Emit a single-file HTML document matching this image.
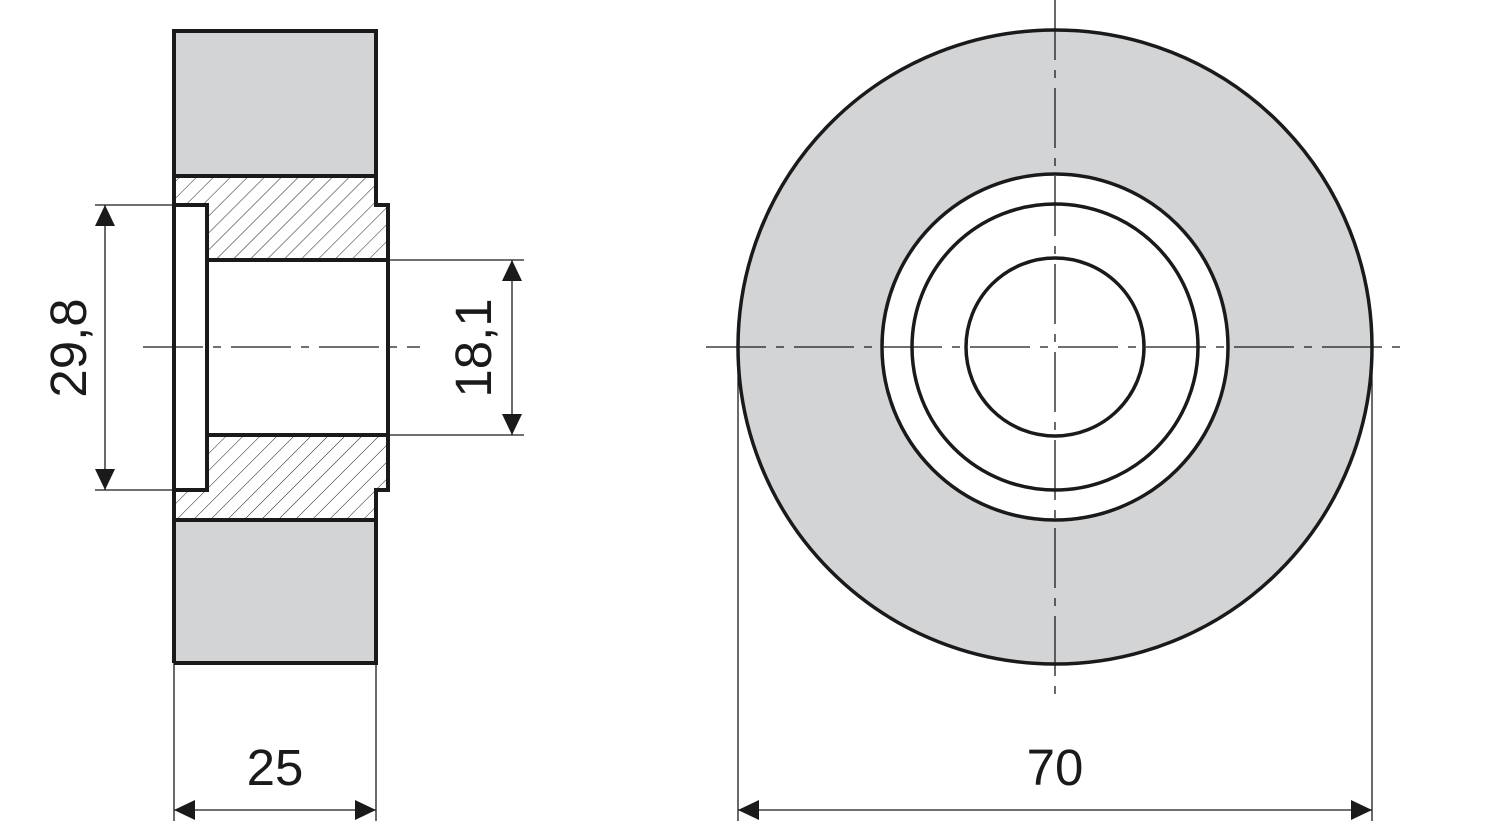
<!DOCTYPE html>
<html><head><style>html,body{margin:0;padding:0;background:#fff;}svg{display:block}</style></head>
<body>
<svg width="1499" height="821" viewBox="0 0 1499 821" xmlns="http://www.w3.org/2000/svg" font-family="Liberation Sans, sans-serif">
<defs>
<pattern id="h" patternUnits="userSpaceOnUse" width="12" height="12" patternTransform="rotate(45)">
<line x1="0" y1="0" x2="0" y2="12" stroke="#222" stroke-width="1"/>
</pattern>
</defs>
<!-- left view -->
<rect x="174" y="31" width="202" height="145" fill="#d3d4d6"/>
<rect x="174" y="520" width="202" height="143" fill="#d3d4d6"/>
<path d="M174 176 H376 V205 H388 V260 H207 V205 H174 Z" fill="url(#h)"/>
<path d="M174 520 H376 V490 H388 V435 H207 V490 H174 Z" fill="url(#h)"/>
<g fill="none" stroke="#1a1a1a" stroke-width="4" stroke-linejoin="miter">
<path d="M174 663 V31 H376 V205 H388 V490 H376 V663 H174"/>
<line x1="174" y1="176" x2="376" y2="176"/>
<line x1="174" y1="520" x2="376" y2="520"/>
<path d="M174 205 H207 V490 H174"/>
<line x1="207" y1="260" x2="388" y2="260"/>
<line x1="207" y1="435" x2="388" y2="435"/>
</g>
<g stroke="#1a1a1a" stroke-width="1.3" fill="none">
<line x1="143" y1="347" x2="420" y2="347" stroke-dasharray="60,10,8,10"/>
<line x1="95" y1="205" x2="174" y2="205"/>
<line x1="95" y1="490" x2="174" y2="490"/>
<line x1="105" y1="205" x2="105" y2="490"/>
<line x1="388" y1="260" x2="524" y2="260"/>
<line x1="388" y1="435" x2="524" y2="435"/>
<line x1="512" y1="260" x2="512" y2="435"/>
<line x1="174" y1="663" x2="174" y2="821"/>
<line x1="376" y1="663" x2="376" y2="821"/>
<line x1="174" y1="810" x2="376" y2="810"/>
<line x1="738" y1="347" x2="738" y2="821"/>
<line x1="1372" y1="347" x2="1372" y2="821"/>
<line x1="738" y1="810" x2="1372" y2="810"/>
</g>
<g fill="#1a1a1a">
<polygon points="105,205 95,226 115,226"/>
<polygon points="105,490 95,469 115,469"/>
<polygon points="512,260 502,281 522,281"/>
<polygon points="512,435 502,414 522,414"/>
<polygon points="174,810 195,800 195,820"/>
<polygon points="376,810 355,800 355,820"/>
<polygon points="738,810 759,800 759,820"/>
<polygon points="1372,810 1351,800 1351,820"/>
</g>
<text x="275" y="785" font-size="51" text-anchor="middle" fill="#1a1a1a">25</text>
<text x="1055" y="785" font-size="51" text-anchor="middle" fill="#1a1a1a">70</text>
<text transform="translate(86,348) rotate(-90)" font-size="51" text-anchor="middle" fill="#1a1a1a">29,8</text>
<text transform="translate(491,348) rotate(-90)" font-size="51" text-anchor="middle" fill="#1a1a1a">18,1</text>
<!-- right view -->
<circle cx="1055" cy="347" r="317" fill="#d3d4d6" stroke="#1a1a1a" stroke-width="3.5"/>
<circle cx="1055" cy="347" r="173" fill="#fff" stroke="#1a1a1a" stroke-width="3.5"/>
<circle cx="1055" cy="347" r="143" fill="none" stroke="#1a1a1a" stroke-width="3.5"/>
<circle cx="1055" cy="347" r="89" fill="none" stroke="#1a1a1a" stroke-width="3.5"/>
<g stroke="#1a1a1a" stroke-width="1.3" stroke-dasharray="60,10,8,10">
<line x1="706" y1="347" x2="1405" y2="347"/>
<line x1="1055" y1="0" x2="1055" y2="695"/>
</g>
</svg>
</body></html>
